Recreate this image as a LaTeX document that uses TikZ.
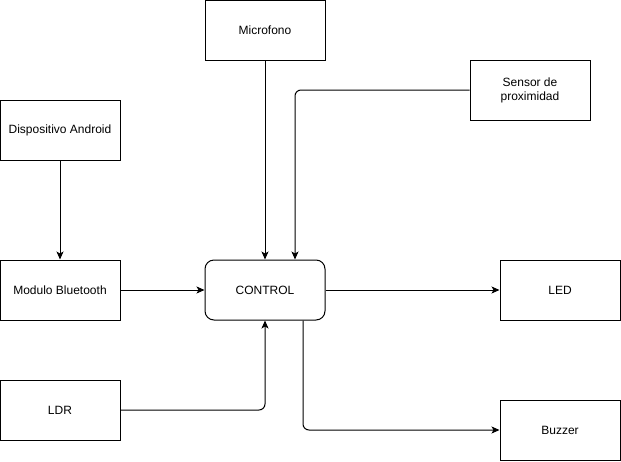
\documentclass[tikz,border=0pt]{standalone}
\usepackage{fontspec}
\setmainfont{Liberation Sans}
\usetikzlibrary{arrows.meta}
\begin{document}
\begin{tikzpicture}[x=1pt,y=-1pt,
  line width=1pt,
  block/.style={draw, minimum width=120pt, minimum height=60pt, inner sep=0pt,
                align=center, font=\fontsize{12pt}{14pt}\selectfont},
  ctrl/.style={block, rounded corners=9pt},
  arr/.style={-{Stealth[length=8pt,width=7pt,inset=2pt]}},
  elbow/.style={arr, rounded corners=6pt}]
  \useasboundingbox (0,0) rectangle (621,461);

  % blocks
  \node[block] (mic)     at (265,30)  {Microfono};
  \node[block] (sensor)  at (530,90)  {Sensor de\\proximidad};
  \node[block] (android) at (60,130)  {Dispositivo Android};
  \node[block] (bt)      at (60,290)  {Modulo Bluetooth};
  \node[ctrl]  (control) at (265,290) {CONTROL};
  \node[block] (led)     at (560,290) {LED};
  \node[block] (ldr)     at (60,410)  {LDR};
  \node[block] (buzzer)  at (560,430) {Buzzer};

  % connections
  \draw[arr] (mic) -- (control);
  \draw[elbow] (sensor.west) -| ([xshift=30pt]control.north);
  \draw[arr] (android) -- (bt);
  \draw[arr] (bt) -- (control);
  \draw[arr] (control) -- (led);
  \draw[elbow] (ldr.east) -| (control.south);
  \draw[elbow] ([xshift=38pt]control.south) |- (buzzer.west);
\end{tikzpicture}
\end{document}
